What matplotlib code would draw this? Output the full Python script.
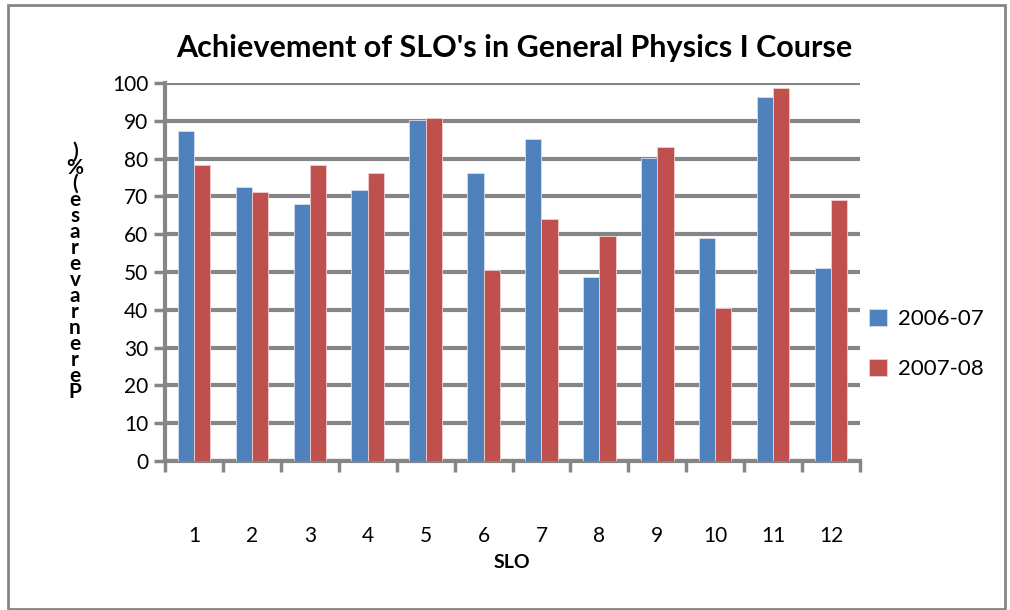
import numpy as np
import matplotlib
matplotlib.use("Agg")
import matplotlib.pyplot as plt
from matplotlib.patches import Rectangle

################################
# Data
################################
slo = ["1", "2", "3", "4", "5", "6", "7", "8", "9", "10", "11", "12"]
y2006 = [87.4, 72.4, 67.9, 71.8, 90.3, 76.2, 85.2, 48.7, 80.2, 59.0, 96.3, 51.0]
y2007 = [78.4, 71.2, 78.4, 76.2, 90.7, 50.5, 63.9, 59.5, 83.0, 40.5, 98.6, 69.0]
series_names = ["2006-07", "2007-08"]
title = "Achievement of SLO's in General Physics I Course"
# garbled stacked y label as it shows in the picture
ylabel_chars = [")", "%", "(", "e", "s", "a", "r", "e", "v", "a", "r", "n", "e", "r", "e", "P"]

blue = "#4F81BD"
red = "#C0504D"
grid_grey = "#868686"

plt.rcParams['font.family'] = ['Lato', 'DejaVu Sans']

fig = plt.figure(figsize=(10.1, 6.1), dpi=100)
ax = fig.add_axes([165/1010, 1-461/610, 695/1010, 378/610])

x = np.arange(len(slo))
w = 0.28
ax.bar(x - w/2, y2006, w, color=blue, edgecolor="#d6e0ee", linewidth=0.6, label=series_names[0], zorder=3)
ax.bar(x + w/2, y2007, w, color=red, edgecolor="#ecd2d1", linewidth=0.6, label=series_names[1], zorder=3)

ax.set_xlim(-0.5, len(slo) - 0.5)
ax.set_ylim(0, 100)
ax.set_yticks(np.arange(0, 101, 10))
ax.yaxis.grid(True, color=grid_grey, linewidth=3, zorder=0)
ax.set_axisbelow(True)

# category labels at centres, tick marks at boundaries
ax.set_xticks(x)
ax.set_xticklabels(slo)
ax.tick_params(axis="x", which="major", length=0, pad=47, labelsize=15)
ax.set_xticks(np.arange(-0.5, len(slo), 1), minor=True)
ax.tick_params(axis="x", which="minor", length=8, width=2.5, color=grid_grey, direction="out")
ax.tick_params(axis="y", length=8, width=2.5, color=grid_grey, labelsize=15, pad=4)

for s in ["top", "right"]:
    ax.spines[s].set_visible(False)
for s in ["left", "bottom"]:
    ax.spines[s].set_color(grid_grey)
    ax.spines[s].set_linewidth(3)

fig.text(514/1010, 1-48/610, title, ha="center", va="center", fontsize=22, fontweight="bold")
fig.text(512/1010, 1-563/610, "SLO", ha="center", va="center", fontsize=14, fontweight="bold")
fig.text(75/1010, 1-272/610, "\n".join(ylabel_chars), ha="center", va="center",
         fontsize=15, fontweight="bold", linespacing=0.75)

leg = ax.legend(loc="center left", bbox_to_anchor=(1.0, 0.31), frameon=False,
                fontsize=16, handlelength=0.8, handleheight=0.8, labelspacing=1.35,
                handletextpad=0.5, borderaxespad=0)

# outer chart border
fig.patches.append(Rectangle((8/1010, 0.002), 997/1010, 1-5/610-0.002, transform=fig.transFigure,
                             fill=False, edgecolor=grid_grey, linewidth=2))

fig.savefig("out.png", dpi=100)
